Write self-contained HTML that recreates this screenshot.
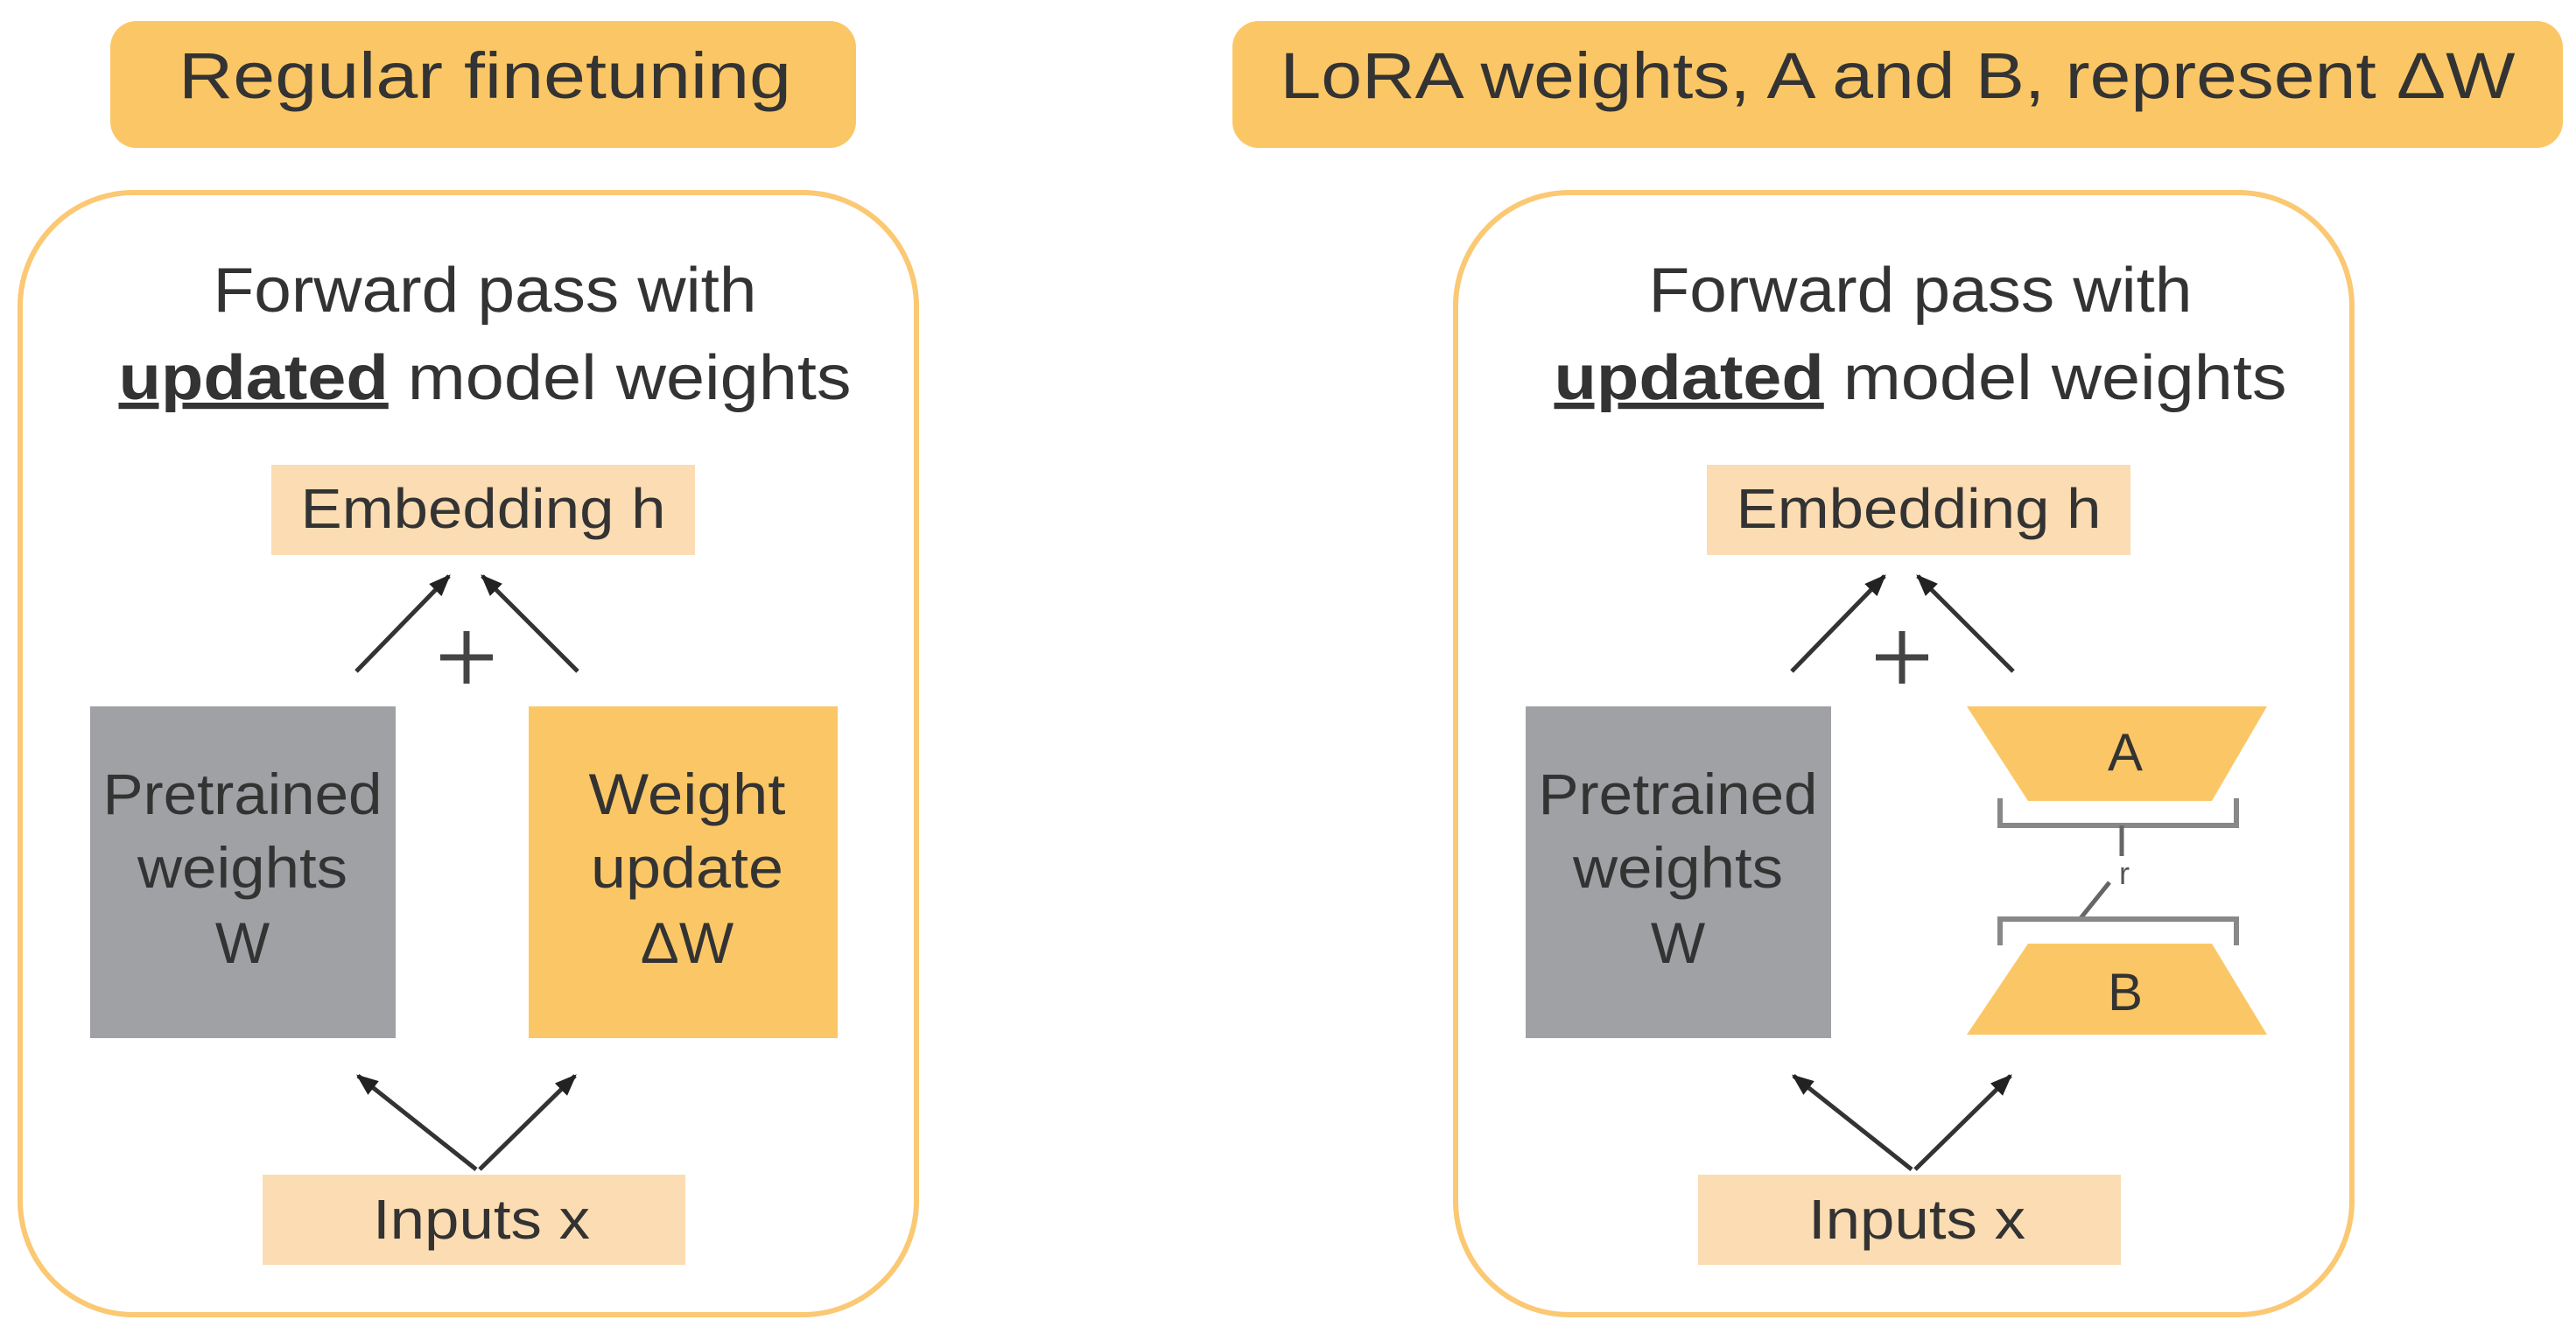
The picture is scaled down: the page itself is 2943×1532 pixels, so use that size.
<!DOCTYPE html>
<html><head><style>html,body{margin:0;padding:0;background:#fff;}svg{display:block}</style></head>
<body>
<svg width="2943" height="1532" viewBox="0 0 2943 1532" xmlns="http://www.w3.org/2000/svg" font-family="'Liberation Sans', sans-serif" fill="#333">
<defs>
<marker id="ah" viewBox="0 0 10 10" refX="9" refY="5" markerWidth="5" markerHeight="5" orient="auto"><path d="M0,1 L10,5 L0,9 z" fill="#222"/></marker>
<g id="panel">
  <rect x="23" y="220" width="1024" height="1282" rx="130" fill="#fff" stroke="#fbc873" stroke-width="6"/>
  <text x="554" y="356" font-size="72" text-anchor="middle" fill="#333" textLength="621" lengthAdjust="spacingAndGlyphs">Forward pass with</text>
  <text x="554" y="456" font-size="72" text-anchor="middle" fill="#333" textLength="837" lengthAdjust="spacingAndGlyphs"><tspan font-weight="bold" text-decoration="underline">updated</tspan> model weights</text>
  <rect x="310" y="531" width="484" height="103" fill="#fcdcb2"/>
  <text x="552" y="603" font-size="64" text-anchor="middle" fill="#333" textLength="417" lengthAdjust="spacingAndGlyphs">Embedding h</text>
  <line x1="407" y1="767" x2="513" y2="658" stroke="#333" stroke-width="5" marker-end="url(#ah)"/>
  <line x1="660" y1="767" x2="551" y2="658" stroke="#333" stroke-width="5" marker-end="url(#ah)"/>
  <line x1="503" y1="751" x2="563" y2="751" stroke="#444" stroke-width="7"/>
  <line x1="533" y1="721" x2="533" y2="781" stroke="#444" stroke-width="7"/>
  <rect x="103" y="807" width="349" height="379" fill="#a0a1a4"/>
  <text x="277" y="930" font-size="66" text-anchor="middle" fill="#333" textLength="319" lengthAdjust="spacingAndGlyphs">Pretrained</text>
  <text x="277" y="1014" font-size="66" text-anchor="middle" fill="#333" textLength="240" lengthAdjust="spacingAndGlyphs">weights</text>
  <text x="277" y="1100" font-size="66" text-anchor="middle" fill="#333">W</text>
  <line x1="544" y1="1336" x2="409" y2="1229" stroke="#333" stroke-width="5" marker-end="url(#ah)"/>
  <line x1="548" y1="1336" x2="657" y2="1229" stroke="#333" stroke-width="5" marker-end="url(#ah)"/>
  <rect x="300" y="1342" width="483" height="103" fill="#fcdcb2"/>
  <text x="550" y="1415" font-size="64" text-anchor="middle" fill="#333" textLength="248" lengthAdjust="spacingAndGlyphs">Inputs x</text>
</g>
</defs>
<rect x="126" y="24" width="852" height="145" rx="30" fill="#fbc766"/>
<text x="554" y="112" font-size="74" text-anchor="middle" fill="#333" textLength="700" lengthAdjust="spacingAndGlyphs">Regular finetuning</text>
<rect x="1408" y="24" width="1520" height="145" rx="30" fill="#fbc766"/>
<text x="2168" y="112" font-size="74" text-anchor="middle" fill="#333" textLength="1411" lengthAdjust="spacingAndGlyphs">LoRA weights, A and B, represent ΔW</text>

<use href="#panel"/>
<rect x="604" y="807" width="353" height="379" fill="#fbc766"/>
<text x="785" y="930" font-size="66" text-anchor="middle" fill="#333" textLength="225" lengthAdjust="spacingAndGlyphs">Weight</text>
<text x="785" y="1014" font-size="66" text-anchor="middle" fill="#333" textLength="220" lengthAdjust="spacingAndGlyphs">update</text>
<text x="785" y="1100" font-size="66" text-anchor="middle" fill="#333">ΔW</text>

<g transform="translate(1640,0)"><use href="#panel"/></g>
<polygon points="2247,807 2590,807 2527,915 2317,915" fill="#fbc766"/>
<text x="2428" y="880" font-size="60" text-anchor="middle" fill="#333">A</text>
<polyline points="2285,912 2285,943 2555,943 2555,912" fill="none" stroke="#888" stroke-width="6"/>
<line x1="2424" y1="943" x2="2424" y2="978" stroke="#666" stroke-width="5"/>
<text x="2427" y="1010" font-size="36" text-anchor="middle" fill="#555">r</text>
<line x1="2410" y1="1008" x2="2377" y2="1049" stroke="#666" stroke-width="5"/>
<polyline points="2285,1080 2285,1050 2555,1050 2555,1080" fill="none" stroke="#888" stroke-width="6"/>
<polygon points="2317,1078 2527,1078 2590,1182 2247,1182" fill="#fbc766"/>
<text x="2428" y="1154" font-size="60" text-anchor="middle" fill="#333">B</text>
</svg>
</body></html>
